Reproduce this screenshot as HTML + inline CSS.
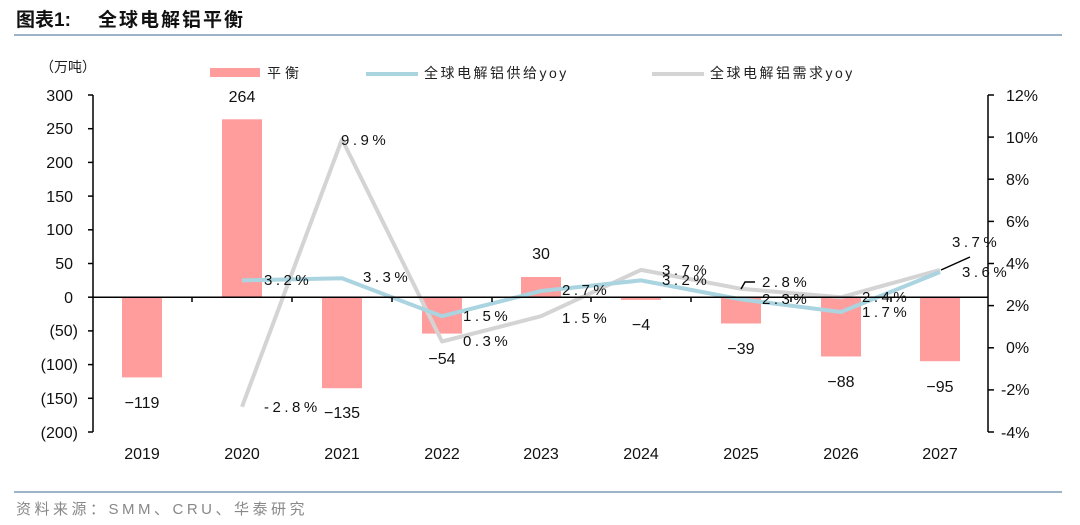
<!DOCTYPE html>
<html><head><meta charset="utf-8"><style>
body{margin:0;background:#fff;}
svg{display:block;font-family:"Liberation Sans","Noto Sans CJK SC",sans-serif;}
</style></head><body>
<svg width="1080" height="525" viewBox="0 0 1080 525">
<text x="16" y="26" font-size="19" font-weight="bold" fill="#111">图表1:</text>
<text x="98" y="26" font-size="19" font-weight="bold" fill="#111" letter-spacing="2">全球电解铝平衡</text>
<line x1="14" y1="35" x2="1062" y2="35" stroke="#9db3c8" stroke-width="2"/>
<text x="40" y="72" font-size="14" fill="#222">（万吨）</text>
<rect x="210" y="68" width="50" height="9" fill="#ff9c9c"/>
<text x="267" y="78" font-size="14" fill="#222" letter-spacing="4">平衡</text>
<line x1="366" y1="74" x2="418" y2="74" stroke="#a9d4e0" stroke-width="4"/>
<text x="424" y="78" font-size="14" fill="#222" letter-spacing="2.5">全球电解铝供给yoy</text>
<line x1="652" y1="74" x2="704" y2="74" stroke="#d4d4d4" stroke-width="4"/>
<text x="710" y="78" font-size="14" fill="#222" letter-spacing="2.5">全球电解铝需求yoy</text>
<g stroke="#000" stroke-width="1.5">
<line x1="93" y1="95" x2="93" y2="432"/>
<line x1="88" y1="95" x2="93" y2="95"/><line x1="88" y1="128.7" x2="93" y2="128.7"/><line x1="88" y1="162.4" x2="93" y2="162.4"/><line x1="88" y1="196.1" x2="93" y2="196.1"/><line x1="88" y1="229.8" x2="93" y2="229.8"/><line x1="88" y1="263.5" x2="93" y2="263.5"/><line x1="88" y1="297.2" x2="93" y2="297.2"/><line x1="88" y1="330.9" x2="93" y2="330.9"/><line x1="88" y1="364.6" x2="93" y2="364.6"/><line x1="88" y1="398.3" x2="93" y2="398.3"/><line x1="88" y1="432" x2="93" y2="432"/>
<line x1="988" y1="95" x2="988" y2="432"/>
<line x1="988" y1="95" x2="994" y2="95"/><line x1="988" y1="137.1" x2="994" y2="137.1"/><line x1="988" y1="179.2" x2="994" y2="179.2"/><line x1="988" y1="221.4" x2="994" y2="221.4"/><line x1="988" y1="263.5" x2="994" y2="263.5"/><line x1="988" y1="305.6" x2="994" y2="305.6"/><line x1="988" y1="347.8" x2="994" y2="347.8"/><line x1="988" y1="389.9" x2="994" y2="389.9"/><line x1="988" y1="432" x2="994" y2="432"/>
</g>
<g font-size="16" fill="#111" text-anchor="end">
<text x="73" y="101">300</text><text x="73" y="134">250</text><text x="73" y="168">200</text><text x="73" y="202">150</text><text x="73" y="235">100</text><text x="73" y="269">50</text><text x="73" y="303">0</text><text x="78" y="336">(50)</text><text x="78" y="370">(100)</text><text x="78" y="404">(150)</text><text x="78" y="438">(200)</text>
</g>
<g font-size="16" fill="#111">
<text x="1006" y="101">12%</text><text x="1006" y="143">10%</text><text x="1006" y="185">8%</text><text x="1006" y="227">6%</text><text x="1006" y="269">4%</text><text x="1006" y="311">2%</text><text x="1006" y="353">0%</text><text x="1001" y="395">-2%</text><text x="1001" y="438">-4%</text>
</g>
<g fill="#ff9c9c">
<rect x="122" y="297.2" width="40" height="80.2"/>
<rect x="222" y="119.3" width="40" height="177.9"/>
<rect x="322" y="297.2" width="40" height="91"/>
<rect x="422" y="297.2" width="40" height="36.4"/>
<rect x="521" y="277" width="40" height="20.2"/>
<rect x="621" y="297.2" width="40" height="2.7"/>
<rect x="721" y="297.2" width="40" height="26.3"/>
<rect x="821" y="297.2" width="40" height="59.3"/>
<rect x="920" y="297.2" width="40" height="64"/>
</g>
<polyline fill="none" stroke="#d4d4d4" stroke-width="4" stroke-linejoin="round" points="242,406.8 342,139.3 442,341.5 541,316.2 641,269.9 741,288.8 841,297.3 940,269.9"/>
<polyline fill="none" stroke="#a9d4e0" stroke-width="4" stroke-linejoin="round" points="242,280.4 342,278.3 442,316.2 541,291 641,280.4 741,299.4 841,312 940,272"/>
<line x1="93" y1="297.2" x2="988" y2="297.2" stroke="#000" stroke-width="1.5"/>
<g stroke="#000" stroke-width="1.5"><line x1="192" y1="297" x2="192" y2="302"/><line x1="292" y1="297" x2="292" y2="302"/><line x1="392" y1="297" x2="392" y2="302"/><line x1="492" y1="297" x2="492" y2="302"/><line x1="591" y1="297" x2="591" y2="302"/><line x1="691" y1="297" x2="691" y2="302"/><line x1="791" y1="297" x2="791" y2="302"/><line x1="891" y1="297" x2="891" y2="302"/>
<polyline fill="none" points="741,289 745,282 755,282"/>
<line x1="941" y1="270" x2="970" y2="257"/></g>
<g font-size="16" fill="#111" text-anchor="middle">
<text x="142" y="459">2019</text><text x="242" y="459">2020</text><text x="342" y="459">2021</text><text x="442" y="459">2022</text><text x="541" y="459">2023</text><text x="641" y="459">2024</text><text x="741" y="459">2025</text><text x="841" y="459">2026</text><text x="940" y="459">2027</text>
<text x="142" y="408">−119</text><text x="242" y="102">264</text><text x="342" y="418">−135</text><text x="442" y="364">−54</text><text x="541" y="259">30</text><text x="641" y="330">−4</text><text x="741" y="354">−39</text><text x="841" y="387">−88</text><text x="940" y="392">−95</text>
</g>
<g font-size="15" fill="#111" letter-spacing="3.5">
<text x="264" y="285">3.2%</text><text x="363" y="282">3.3%</text><text x="463" y="321">1.5%</text><text x="562" y="295">2.7%</text><text x="662" y="285">3.2%</text><text x="762" y="304">2.3%</text><text x="862" y="317">1.7%</text><text x="962" y="277">3.6%</text>
<text x="264" y="412">-2.8%</text><text x="341" y="145">9.9%</text><text x="463" y="346">0.3%</text><text x="562" y="323">1.5%</text><text x="662" y="275">3.7%</text><text x="762" y="287">2.8%</text><text x="862" y="302">2.4%</text><text x="952" y="247">3.7%</text>
</g>
<line x1="14" y1="492" x2="1062" y2="492" stroke="#9db3c8" stroke-width="2"/>
<text x="16" y="514" font-size="15" fill="#888" letter-spacing="3.5">资料来源：SMM、CRU、华泰研究</text>
</svg>
</body></html>
